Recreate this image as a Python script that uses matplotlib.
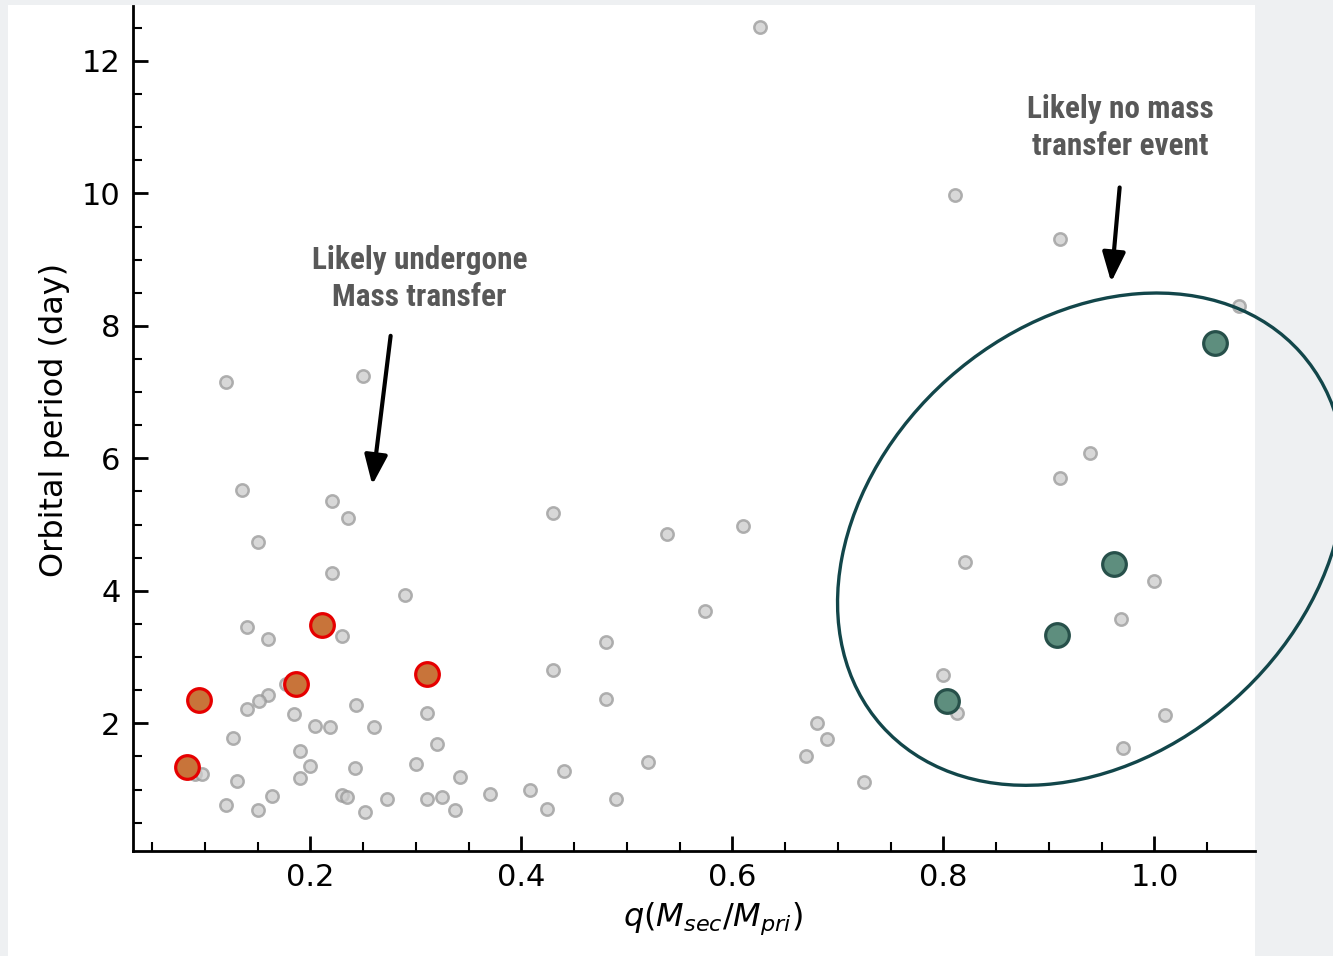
import numpy as np
import matplotlib
matplotlib.use("Agg")
import matplotlib.pyplot as plt
from matplotlib.patches import Ellipse, Rectangle
from matplotlib.transforms import IdentityTransform
from matplotlib.ticker import MultipleLocator

# q = M_sec / M_pri and orbital period (day)
q_all = [0.626, 0.811, 0.910, 1.080, 0.120, 0.250, 0.939, 0.910, 0.135, 0.220,
         0.236, 0.430, 0.538, 0.610, 0.150, 0.820, 1.000, 0.220, 0.290, 0.574,
         0.968, 0.140, 0.160, 0.230, 0.480, 0.430, 0.800, 0.177, 0.160, 0.151,
         0.140, 0.243, 0.480, 0.184, 0.310, 0.813, 1.010, 0.680, 0.204, 0.219,
         0.260, 0.127, 0.320, 0.690, 0.670, 0.970, 0.190, 0.520, 0.200, 0.242,
         0.300, 0.091, 0.097, 0.342, 0.440, 0.725, 0.130, 0.190, 0.164, 0.230,
         0.235, 0.120, 0.150, 0.273, 0.310, 0.325, 0.370, 0.408, 0.490, 0.252,
         0.337, 0.424]
p_all = [12.51, 9.98, 9.31, 8.30, 7.16, 7.24, 6.08, 5.70, 5.52, 5.35,
         5.10, 5.17, 4.86, 4.98, 4.73, 4.44, 4.15, 4.27, 3.93, 3.69,
         3.57, 3.45, 3.28, 3.32, 3.22, 2.81, 2.73, 2.60, 2.42, 2.34,
         2.22, 2.28, 2.36, 2.14, 2.16, 2.16, 2.13, 2.01, 1.96, 1.95,
         1.94, 1.78, 1.69, 1.76, 1.50, 1.62, 1.58, 1.42, 1.36, 1.32,
         1.39, 1.24, 1.24, 1.19, 1.28, 1.12, 1.13, 1.18, 0.90, 0.91,
         0.88, 0.77, 0.69, 0.85, 0.86, 0.88, 0.94, 0.99, 0.86, 0.66,
         0.69, 0.70]

# systems that likely went through mass transfer
q_mt = [0.211, 0.094, 0.186, 0.310, 0.083]
p_mt = [3.48, 2.35, 2.60, 2.74, 1.34]

# systems with likely no mass transfer
q_nomt = [1.057, 0.962, 0.908, 0.803]
p_nomt = [7.74, 4.41, 3.33, 2.34]

W, H = 1333, 956
fig = plt.figure(figsize=(W / 100, H / 100), dpi=100, facecolor="#eef0f2")
# white slide panel behind the plot
fig.patches.append(Rectangle((8 / W, 0), (1255 - 8) / W, (H - 5) / H,
                             transform=fig.transFigure, facecolor="white",
                             edgecolor="none", zorder=-10))

ax = fig.add_axes([133 / W, 1 - 851 / H, (1255 - 133) / W, (851 - 6) / H])
ax.set_facecolor("none")
ax.set_zorder(1)

ax.scatter(q_all, p_all, s=80, facecolor="#cccccc", edgecolor="#999999",
           linewidth=1.8, alpha=0.75, zorder=2)
ax.scatter(q_mt, p_mt, s=290, facecolor="#c8743a", edgecolor="#e60000",
           linewidth=2.3, zorder=3)
ax.scatter(q_nomt, p_nomt, s=290, facecolor="#5e8e7e", edgecolor="#27504a",
           linewidth=2.3, zorder=3)

ax.set_xlim(0.0318, 1.0953)
ax.set_ylim(0.072, 12.83)

ax.xaxis.set_major_locator(MultipleLocator(0.2))
ax.xaxis.set_minor_locator(MultipleLocator(0.05))
ax.yaxis.set_major_locator(MultipleLocator(2))
ax.yaxis.set_minor_locator(MultipleLocator(0.5))
ax.tick_params(which="major", direction="in", length=11, width=2.0,
               labelsize=22, pad=9)
ax.tick_params(which="minor", direction="in", length=6.5, width=1.5)
ax.spines["top"].set_visible(False)
ax.spines["right"].set_visible(False)
ax.spines["left"].set_linewidth(2.0)
ax.spines["bottom"].set_linewidth(2.0)

ax.set_xlabel(r"$q(M_{sec}/M_{pri})$", fontsize=23)
ax.set_ylabel("Orbital period (day)", fontsize=23)
ax.xaxis.set_label_coords(0.517, -0.058)
ax.yaxis.set_label_coords(-0.056, 0.51)

# slide annotations
note_font = dict(family=["Roboto Condensed", "Noto Sans", "DejaVu Sans"],
                 fontstretch="condensed", fontweight="bold", fontsize=22.5,
                 color="#585858", ha="center", va="center", linespacing=1.3)
ax.text(0.3035, 8.71, "Likely undergone\nMass transfer", **note_font)
ax.text(0.968, 10.99, "Likely no mass\ntransfer event", **note_font)

arrow = dict(arrowstyle="-|>,head_length=18,head_width=7", color="black",
             linewidth=3.0, mutation_scale=1, shrinkA=0, shrinkB=0)
ax.annotate("", xy=(0.2586, 5.60), xytext=(0.276, 7.85), arrowprops=arrow)
ax.annotate("", xy=(0.959, 8.66), xytext=(0.967, 10.09), arrowprops=arrow)

# ellipse drawn in pixel space around the no-mass-transfer group
cx, cy = ax.transData.transform((0.940, 4.78))
ring = Ellipse((cx, cy), width=561, height=430, angle=41.7, fill=False,
               edgecolor="#12464a", linewidth=2.4, transform=IdentityTransform(),
               zorder=5)
fig.add_artist(ring)

fig.savefig("out.png", dpi=100, facecolor=fig.get_facecolor())
